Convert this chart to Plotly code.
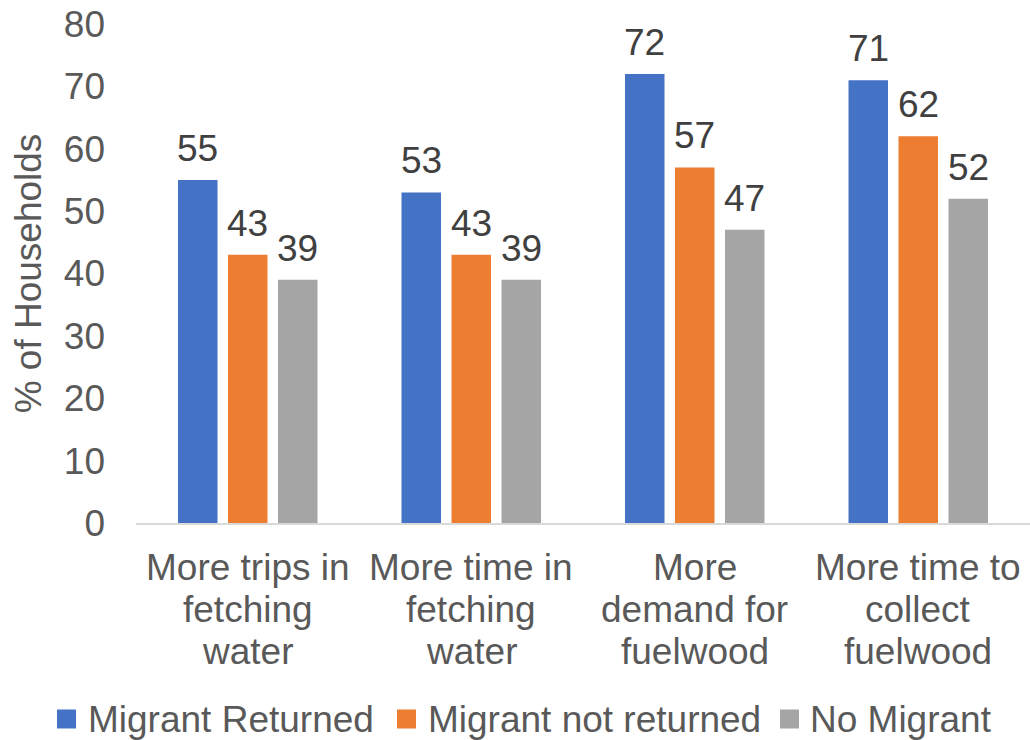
import plotly.graph_objects as go

# Survey categories (x axis) and the three household groups
categories = [
    "More trips in<br>fetching<br>water",
    "More time in<br>fetching<br>water",
    "More<br>demand for<br>fuelwood",
    "More time to<br>collect<br>fuelwood",
]
series_names = ["Migrant Returned", "Migrant not returned", "No Migrant"]
migrant_returned = [55, 53, 72, 71]
migrant_not_returned = [43, 43, 57, 62]
no_migrant = [39, 39, 47, 52]
y_ticks = [0, 10, 20, 30, 40, 50, 60, 70, 80]

colors = ["#4472C4", "#ED7D31", "#A5A5A5"]
FONT = "Liberation Sans, Arial, sans-serif"
W, H = 1030, 740
M_L, M_R, M_T, M_B = 136, 0, 24, 217
BARGAP, BARGROUPGAP = 0.329, 0.21

all_series = [migrant_returned, migrant_not_returned, no_migrant]

fig = go.Figure()
for name, vals, col in zip(series_names, all_series, colors):
    fig.add_trace(go.Bar(
        name=name, x=categories, y=vals,
        marker=dict(color=col, line=dict(width=0)),
        cliponaxis=False, showlegend=False,
    ))

# Pixel -> paper helpers
pw = W - M_L - M_R
ph = H - M_T - M_B
def px_x(p):
    return (p - M_L) / pw
def px_y(p):
    return (H - M_B - p) / ph

annotations = []

# Value labels above each bar, offset to the bar's slot within its group
slot = pw / len(categories) * (1 - BARGAP) / len(all_series)
for i, vals in enumerate(all_series):
    shift = (i - (len(all_series) - 1) / 2) * slot
    for cat, v in zip(categories, vals):
        annotations.append(dict(x=cat, y=v, xref="x", yref="y",
                                xshift=shift, yshift=9,
                                xanchor="center", yanchor="bottom",
                                showarrow=False, text=str(v),
                                font=dict(family=FONT, size=37, color="#404040")))

# Category labels, one line at a time with a tighter line pitch
first_line_y, line_pitch = 567, 42
for cat in categories:
    for k, line in enumerate(cat.split("<br>")):
        annotations.append(dict(x=cat, xref="x", yref="paper",
                                y=px_y(first_line_y + k * line_pitch),
                                xanchor="center", yanchor="middle",
                                showarrow=False, text=line,
                                font=dict(family=FONT, size=37, color="#595959")))

# Hand-built legend along the bottom
legend_items = [(57, 86), (397, 426), (780, 808)]
legend_y = 719
shapes = []
for (sx, tx), name, col in zip(legend_items, series_names, colors):
    shapes.append(dict(type="rect", xref="paper", yref="paper",
                       x0=px_x(sx), x1=px_x(sx + 19),
                       y0=px_y(legend_y - 9.5), y1=px_y(legend_y + 9.5),
                       fillcolor=col, line=dict(width=0)))
    annotations.append(dict(xref="paper", yref="paper", x=px_x(tx), y=px_y(legend_y),
                            xanchor="left", yanchor="middle", showarrow=False,
                            text=name, font=dict(family=FONT, size=37, color="#595959")))

fig.update_layout(
    width=W, height=H,
    margin=dict(l=M_L, r=M_R, t=M_T, b=M_B),
    paper_bgcolor="white", plot_bgcolor="white",
    barmode="group", bargap=BARGAP, bargroupgap=BARGROUPGAP,
    font=dict(family=FONT, size=37, color="#595959"),
    shapes=shapes, annotations=annotations,
    showlegend=False,
)
fig.update_xaxes(
    showline=True, linecolor="#D9D9D9", linewidth=2,
    showgrid=False, ticks="", showticklabels=False,
    automargin=False,
)
fig.update_yaxes(
    range=[0, 80], tickvals=y_ticks, showgrid=False, zeroline=False,
    showline=False, ticks="", ticklabelstandoff=30,
    tickfont=dict(family=FONT, size=37, color="#595959"),
    title=dict(text="% of Households", standoff=10,
               font=dict(family=FONT, size=37, color="#595959")),
    automargin=False,
)

fig.write_html("out.html")
